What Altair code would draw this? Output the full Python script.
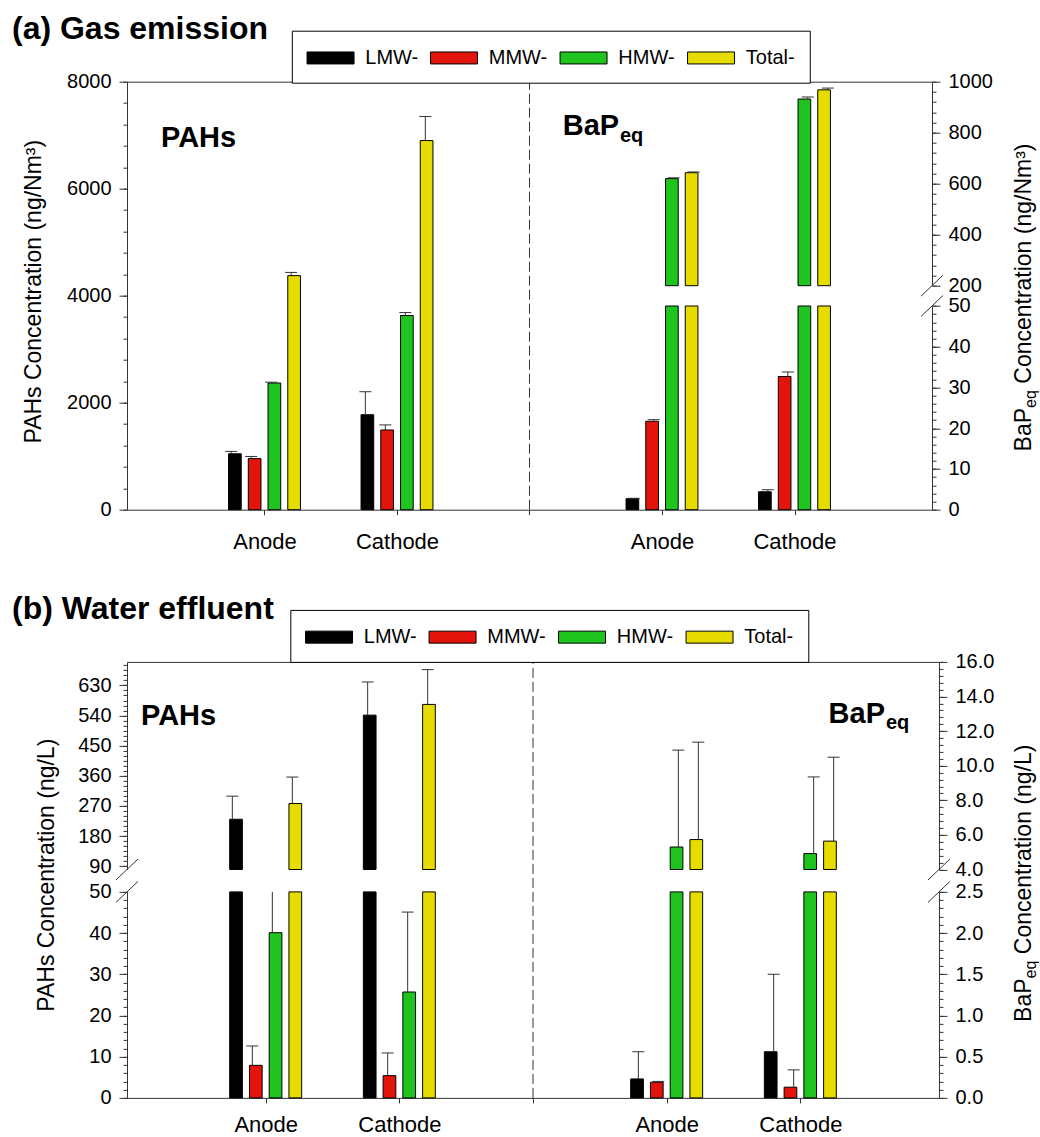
import altair as alt
import pandas as pd

FONT = "Liberation Sans"
FRAME = "#333333"
ERR = "#333333"

GROUPS = ["Anode", "Cathode"]
SERIES = ["LMW-", "MMW-", "HMW-", "Total-"]
COLORS = ["#000000", "#e3140c", "#1fc41f", "#e6dc00"]

# (a) Gas emission  -- values per series [LMW, MMW, HMW, Total]
GAS_PAHS_ANODE = [1045, 955, 2368, 4375]
GAS_PAHS_CATHODE = [1775, 1490, 3630, 6900]
GAS_PAHS_ERR_ANODE = [45, 40, 15, 60]
GAS_PAHS_ERR_CATHODE = [430, 95, 55, 450]
GAS_BAP_ANODE = [2.7, 21.7, 620, 643]
GAS_BAP_CATHODE = [4.4, 32.7, 932, 968]
GAS_BAP_ERR_ANODE = [0.1, 0.4, 3, 3]
GAS_BAP_ERR_CATHODE = [0.5, 1.1, 8, 7]

# (b) Water effluent
WATER_PAHS_ANODE = [230, 7.9, 40.1, 277]
WATER_PAHS_CATHODE = [541, 5.4, 25.7, 573]
WATER_PAHS_ERR_ANODE = [69, 4.7, 22, 79]
WATER_PAHS_ERR_CATHODE = [99, 5.5, 19.4, 104]
WATER_BAP_ANODE = [0.23, 0.19, 5.30, 5.73]
WATER_BAP_CATHODE = [0.56, 0.13, 4.92, 5.64]
WATER_BAP_ERR_ANODE = [0.33, 0.01, 5.6, 5.63]
WATER_BAP_ERR_CATHODE = [0.94, 0.21, 4.43, 4.85]

ONE = pd.DataFrame({"k": [0]})


def table(anode, cathode, err_a, err_c, side):
    rows = []
    for gi, (vals, errs) in enumerate([(anode, err_a), (cathode, err_c)]):
        for si, s in enumerate(SERIES):
            rows.append({"group": GROUPS[gi], "gi": gi, "series": s, "si": si,
                         "side": side, "v": vals[si], "e": errs[si]})
    return pd.DataFrame(rows)


def xscale():
    return alt.Scale(domain=[0, 6], nice=False, zero=False)


def yscale(lo, hi, rng):
    return alt.Scale(domain=[lo, hi], range=rng, clamp=True, zero=False, nice=False)


label_expr = (
    f"datum.value == 1 || datum.value == 4 ? '{GROUPS[0]}' : "
    f"(datum.value == 2 || datum.value == 5 ? '{GROUPS[1]}' : '')"
)


def bottom_axis(pad):
    return alt.Axis(orient="bottom", values=[1, 2, 3, 4, 5], labelExpr=label_expr,
                    tickSize=5, labelFontSize=22, labelPadding=pad, domain=True,
                    grid=False, title=None, labelFlush=False, labelOverlap=False)


def top_axis():
    return alt.Axis(orient="top", labels=False, ticks=False, domain=True,
                    grid=False, title=None)


def segment(df, step, lo, hi, rng, orient, major, minor, fmt, legend=None, xpad=None):
    ys = yscale(lo, hi, rng)
    base = alt.Chart(df).transform_calculate(
        xp=f"datum.gi + (datum.side == 'BaP' ? 4 : 1) + (datum.si - 1.5) * {step}",
        top="datum.v + datum.e",
    )
    major_axis = alt.Axis(orient=orient, values=major, format=fmt, tickSize=8,
                          labelFontSize=20, labelPadding=8, domain=True, grid=False,
                          title=None, labelFlush=False, labelOverlap=False)
    minor_axis = alt.Axis(orient=orient, values=minor, labels=False, tickSize=4,
                          domain=False, grid=False, title=None)
    bars = base.transform_filter(f"datum.v > {lo}").mark_bar(
        size=12.7, stroke="black", strokeWidth=1
    ).encode(
        x=alt.X("xp:Q", scale=xscale(),
                axis=bottom_axis(xpad) if xpad is not None else None),
        y=alt.Y("v:Q", scale=ys, axis=major_axis),
        y2=alt.datum(lo),
        color=alt.Color("series:N", scale=alt.Scale(domain=SERIES, range=COLORS),
                        legend=legend),
    )
    rules = base.transform_filter(f"datum.v < {hi} && datum.top > {lo}").mark_rule(
        color=ERR, strokeWidth=1
    ).encode(
        x=alt.X("xp:Q", scale=xscale(), axis=top_axis() if xpad is not None else None),
        y=alt.Y("v:Q", scale=ys, axis=minor_axis),
        y2="top:Q",
    )
    caps = base.transform_filter(f"datum.top >= {lo} && datum.top <= {hi}").mark_rule(
        color=ERR, strokeWidth=1, xOffset=-6, x2Offset=6
    ).encode(
        x=alt.X("xp:Q", scale=xscale(), axis=None),
        x2="xp:Q",
        y=alt.Y("top:Q", scale=ys, axis=None),
        y2="top:Q",
    )
    return [bars, rules, caps]


def slash(x_at, y_at, lo, hi, rng):
    return alt.Chart(ONE).mark_rule(
        color=FRAME, strokeWidth=1, xOffset=-11, x2Offset=11, yOffset=10.5, y2Offset=-10.5
    ).encode(
        x=alt.X(datum=x_at, type="quantitative", scale=xscale(), axis=None),
        x2=alt.datum(x_at),
        y=alt.Y(datum=y_at, type="quantitative", scale=yscale(lo, hi, rng), axis=None),
        y2=alt.datum(y_at),
    )


def divider():
    return alt.Chart(ONE).mark_rule(color=FRAME, strokeWidth=1, strokeDash=[10, 4]).encode(
        x=alt.X(datum=3, type="quantitative", scale=xscale(), axis=None),
        y=alt.Y(datum=0, type="quantitative",
                scale=alt.Scale(domain=[0, 1], nice=False, zero=False), axis=None),
        y2=alt.datum(1),
    )


def text(t, x, y, size, bold=False, angle=0, align="left"):
    kw = dict(text=t, fontSize=size, font=FONT, fontWeight="bold" if bold else "normal",
              align=align, baseline="alphabetic", color="black")
    if angle:
        kw["angle"] = angle
    return alt.Chart(ONE).mark_text(**kw).encode(x=alt.value(x), y=alt.value(y))


def legend(lx, ly):
    return alt.Legend(orient="none", legendX=lx, legendY=ly, direction="horizontal",
                      title=None, symbolType="M-1,-0.51L3,-0.51L3,0.51L-1,0.51Z",
                      symbolSize=552, symbolStrokeColor="black", symbolStrokeWidth=1,
                      symbolOpacity=1, labelFont=FONT, labelFontSize=20, labelColor="black",
                      labelOffset=34, columnPadding=9.5, padding=14.5,
                      strokeColor="black", fillColor="white")


def frange(a, b, s):
    out, k = [], 0
    while a + k * s <= b + 1e-9:
        out.append(round(a + k * s, 4))
        k += 1
    return out


# ---------------- panel (a) ----------------
gas_pahs = table(GAS_PAHS_ANODE, GAS_PAHS_CATHODE, GAS_PAHS_ERR_ANODE, GAS_PAHS_ERR_CATHODE, "PAHs")
gas_bap = table(GAS_BAP_ANODE, GAS_BAP_CATHODE, GAS_BAP_ERR_ANODE, GAS_BAP_ERR_CATHODE, "BaP")
STEP_A = 0.149
A_LO = [428, 224.3]
A_HI = [204, 0]
layers_a = []
layers_a += segment(gas_pahs, STEP_A, 0, 8000, [428, 0], "left",
                    frange(0, 8000, 2000), frange(0, 8000, 400), "d",
                    legend=legend(164.8, -51), xpad=16.5)
layers_a += segment(gas_bap, STEP_A, 0, 50, A_LO, "right",
                    frange(0, 50, 10), frange(0, 50, 2), "d")
layers_a += segment(gas_bap, STEP_A, 200, 1000, A_HI, "right",
                    frange(200, 1000, 200), frange(200, 1000, 40), "d")
layers_a += [
    slash(6, 50, 0, 50, A_LO),
    slash(6, 200, 200, 1000, A_HI),
    divider(),
    text("(a) Gas emission", -115, -43, 32, bold=True),
    text("PAHs", 34, 65.7, 29, bold=True),
    text("BaP", 435.7, 53, 29, bold=True),
    text("eq", 493, 60, 20, bold=True),
    text("PAHs Concentration (ng/Nm³)", -86, 210, 23, angle=270, align="center"),
    text("BaP", 904, 369.7, 23, angle=270),
    text("eq", 909, 326.2, 16, angle=270),
    text("Concentration (ng/Nm³)", 904, 302, 23, angle=270),
]
panel_a = alt.layer(*layers_a).properties(width=805, height=428).resolve_scale(
    x="independent", y="independent")

# ---------------- panel (b) ----------------
water_pahs = table(WATER_PAHS_ANODE, WATER_PAHS_CATHODE, WATER_PAHS_ERR_ANODE,
                   WATER_PAHS_ERR_CATHODE, "PAHs")
water_bap = table(WATER_BAP_ANODE, WATER_BAP_CATHODE, WATER_BAP_ERR_ANODE,
                  WATER_BAP_ERR_CATHODE, "BaP")
STEP_B = 0.1478
B_LO = [436, 230]
B_HI = [207.6, 0]
layers_b = []
layers_b += segment(water_pahs, STEP_B, 0, 50, B_LO, "left",
                    frange(0, 50, 10), frange(0, 50, 2), "d",
                    legend=legend(163.3, -52), xpad=11.5)
layers_b += segment(water_pahs, STEP_B, 80, 700, B_HI, "left",
                    frange(90, 630, 90), frange(90, 700, 15), "d")
layers_b += segment(water_bap, STEP_B, 0, 2.5, B_LO, "right",
                    frange(0, 2.5, 0.5), frange(0, 2.5, 0.1), ".1f")
layers_b += segment(water_bap, STEP_B, 4, 16, B_HI, "right",
                    frange(4, 16, 2), frange(4, 16, 0.4), ".1f")
layers_b += [
    slash(0, 50, 0, 50, B_LO),
    slash(0, 80, 80, 700, B_HI),
    slash(6, 2.5, 0, 2.5, B_LO),
    slash(6, 4, 4, 16, B_HI),
    divider(),
    text("(b) Water effluent", -115, -43.2, 32, bold=True),
    text("PAHs", 14, 63.3, 29, bold=True),
    text("BaP", 701.6, 61.6, 29, bold=True),
    text("eq", 759, 67, 20, bold=True),
    text("PAHs Concentration (ng/L)", -72.7, 213.3, 23, angle=270, align="center"),
    text("BaP", 904, 360, 23, angle=270),
    text("eq", 909, 316.5, 16, angle=270),
    text("Concentration (ng/L)", 904, 292.3, 23, angle=270),
]
panel_b = alt.layer(*layers_b).properties(width=812, height=436).resolve_scale(
    x="independent", y="independent")

chart = alt.vconcat(panel_a, panel_b, spacing=39.2).resolve_scale(
    color="independent").resolve_legend(color="independent").properties(
    padding={"left": 11, "top": 11.7, "right": 0, "bottom": 0}
).configure_view(stroke="transparent").configure_axis(
    labelFont=FONT, labelColor="black", domainColor=FRAME, tickColor=FRAME,
    domainWidth=1, tickWidth=1
)

chart.save("out.html", embed_options={"renderer": "svg", "actions": False})
